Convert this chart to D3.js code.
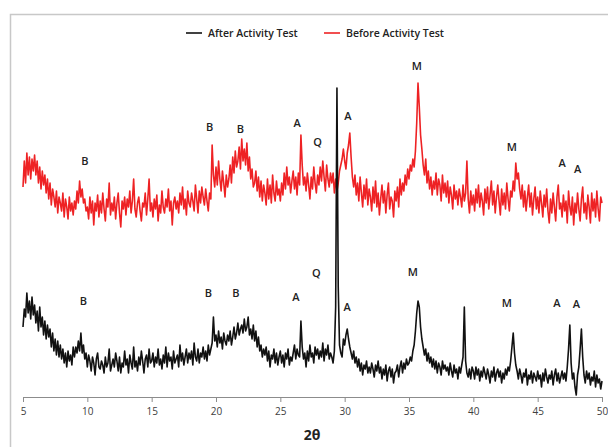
<!DOCTYPE html>
<html>
<head>
<meta charset="utf-8">
<script src="https://cdn.jsdelivr.net/npm/d3@7"></script>
<style>
  body { margin: 0; background: #fff; }
  svg { display: block; }
</style>
</head>
<body>
<div id="chart"></div>
<script>
// 2theta grid, 0.1 degree steps from 5 to 50
const twoTheta = d3.range(451).map(i => +(5 + i * 0.1).toFixed(1));

// intensity (arbitrary units), one row per degree
const afterTest = [
  70, 88, 80, 104, 84, 96, 78, 100, 82, 92,
  74, 86, 66, 90, 70, 80, 62, 76, 58, 72,
  60, 68, 50, 64, 46, 58, 42, 56, 40, 52,
  38, 48, 34, 44, 30, 46, 36, 42, 32, 50,
  40, 50, 44, 56, 46, 64, 44, 52, 38, 44,
  30, 42, 36, 26, 40, 34, 22, 38, 44, 30,
  28, 36, 32, 24, 40, 30, 34, 48, 26, 32,
  38, 30, 44, 36, 26, 40, 24, 34, 30, 46,
  32, 38, 24, 42, 34, 28, 50, 30, 36, 26,
  40, 32, 46, 36, 24, 38, 42, 30, 48, 34,
  36, 44, 30, 40, 34, 48, 32, 38, 28, 42,
  34, 50, 30, 44, 36, 40, 28, 46, 34, 38,
  42, 30, 52, 36, 44, 32, 40, 48, 34, 44,
  38, 46, 32, 54, 40, 36, 48, 34, 44, 40,
  50, 38, 46, 36, 52, 42, 48, 54, 80, 56,
  62, 50, 66, 54, 60, 48, 64, 56, 52, 62,
  56, 66, 52, 60, 70, 58, 64, 74, 62, 68,
  72, 64, 78, 66, 70, 80, 62, 68, 58, 72,
  56, 66, 50, 60, 46, 52, 40, 48, 42, 50,
  36, 46, 30, 42, 38, 48, 34, 44, 32, 40,
  46, 34, 42, 30, 44, 38, 48, 32, 40, 36,
  44, 52, 38, 48, 42, 40, 76, 50, 38, 44,
  30, 46, 36, 52, 40, 44, 34, 50, 42, 48,
  38, 46, 40, 54, 36, 48, 42, 52, 38, 44,
  40, 34, 46, 90, 309, 110, 52, 44, 40, 58,
  52, 62, 68, 58, 50, 44, 38, 46, 34, 40,
  30, 38, 26, 34, 22, 32, 28, 36, 24, 30,
  24, 34, 28, 20, 32, 26, 36, 24, 30, 18,
  28, 22, 32, 16, 26, 30, 20, 28, 14, 24,
  26, 32, 20, 30, 36, 24, 34, 28, 38, 32,
  34, 40, 36, 46, 52, 66, 84, 96, 90, 70,
  58, 50, 42, 48, 36, 44, 34, 40, 30, 38,
  28, 36, 24, 34, 30, 22, 36, 28, 32, 26,
  30, 22, 34, 26, 20, 32, 24, 28, 18, 30,
  24, 32, 40, 90, 36, 24, 20, 28, 18, 30,
  26, 18, 30, 22, 28, 16, 26, 20, 30, 24,
  18, 28, 22, 14, 26, 20, 30, 16, 24, 28,
  20, 26, 14, 24, 18, 28, 22, 30, 26, 36,
  50, 64, 44, 32, 26, 18, 28, 22, 14, 24,
  20, 28, 12, 22, 18, 26, 14, 24, 20, 16,
  26, 18, 22, 10, 24, 16, 28, 20, 14, 22,
  18, 26, 12, 22, 28, 16, 24, 14, 20, 26,
  18, 24, 16, 30, 48, 72, 34, 18, 24, 10,
  2, 22, 30, 48, 68, 40, 22, 14, 26, 18,
  24, 12, 20, 16, 26, 10, 22, 14, 18, 8,
  16
];

const beforeTest = [
  210, 236, 214, 244, 222, 240, 218, 238, 226, 242,
  222, 236, 214, 230, 208, 226, 212, 222, 204, 218,
  198, 214, 192, 208, 200, 190, 206, 184, 200, 194,
  186, 204, 180, 198, 190, 178, 200, 186, 194, 182,
  196, 188, 206, 194, 216, 200, 208, 194, 198, 186,
  190, 178, 200, 184, 196, 172, 194, 186, 202, 180,
  196, 184, 204, 188, 176, 198, 190, 214, 182, 194,
  186, 200, 178, 194, 204, 184, 170, 196, 188, 200,
  182, 198, 190, 206, 184, 196, 218, 188, 180, 194,
  200, 186, 176, 194, 190, 204, 182, 198, 218, 186,
  194, 180, 198, 188, 202, 176, 192, 184, 206, 190,
  184, 198, 190, 208, 186, 196, 172, 194, 200, 188,
  196, 184, 204, 192, 210, 188, 198, 182, 206, 194,
  190, 204, 196, 186, 212, 198, 184, 206, 194, 210,
  200, 192, 208, 196, 186, 204, 198, 252, 222, 210,
  230, 212, 236, 218, 206, 226, 214, 200, 222, 210,
  218, 232, 214, 240, 224, 246, 230, 236, 250, 228,
  258, 236, 248, 232, 254, 226, 240, 218, 228, 210,
  214, 226, 206, 220, 200, 216, 196, 212, 204, 192,
  218, 198, 212, 194, 222, 204, 196, 216, 202, 208,
  196, 214, 202, 224, 208, 230, 212, 220, 204, 216,
  226, 208, 220, 202, 224, 212, 262, 232, 212, 220,
  206, 224, 212, 198, 220, 208, 230, 214, 204, 222,
  212, 230, 216, 236, 220, 206, 232, 218, 210, 224,
  214, 224, 204, 218, 206, 214, 226, 232, 238, 248,
  236, 228, 244, 252, 264, 240, 220, 210, 222, 202,
  214, 196, 220, 204, 190, 212, 198, 218, 192, 208,
  200, 186, 210, 194, 216, 190, 204, 182, 198, 212,
  194, 206, 184, 202, 214, 188, 200, 196, 180, 206,
  196, 210, 190, 218, 202, 214, 206, 222, 212, 228,
  218, 232, 226, 238, 230, 246, 274, 314, 290, 262,
  248, 232, 222, 238, 214, 226, 208, 220, 202, 216,
  208, 224, 202, 218, 212, 196, 222, 204, 214, 200,
  216, 194, 210, 202, 188, 212, 198, 206, 192, 208,
  200, 190, 212, 196, 204, 236, 198, 184, 206, 192,
  202, 186, 208, 194, 212, 190, 204, 196, 182, 208,
  194, 210, 188, 202, 216, 192, 206, 184, 200, 212,
  196, 182, 208, 192, 204, 188, 214, 198, 186, 206,
  200, 216, 206, 234, 218, 224, 208, 198, 212, 190,
  206, 186, 200, 212, 190, 204, 182, 198, 210, 188,
  200, 184, 206, 194, 180, 202, 190, 208, 186, 174,
  198, 184, 204, 190, 176, 200, 212, 188, 194, 180,
  202, 186, 196, 174, 206, 190, 182, 200, 172, 194,
  184, 204, 188, 176, 198, 210, 184, 194, 178, 202,
  190, 174, 204, 186, 198, 180, 206, 188, 176, 200,
  194
];

const xTicks = [5, 10, 15, 20, 25, 30, 35, 40, 45, 50];

// phase labels: letter, 2theta, intensity
const phaseLetters = ["B", "B", "B", "A", "Q", "A", "M", "M", "A", "A",
                      "B", "B", "B", "A", "Q", "A", "M", "M", "A", "A"];
const phaseX = [9.8, 19.5, 21.9, 26.3, 27.9, 30.25, 35.6, 43.0, 46.9, 48.1,
                9.7, 19.4, 21.55, 26.2, 27.8, 30.2, 35.3, 42.6, 46.5, 48.0];
const phaseY = [237, 271, 269, 275, 256, 282, 332, 251, 235, 229,
                97, 105, 105, 101, 125, 91, 126, 95, 95, 94];

const width = 608, height = 447;

const svg = d3.select("#chart")
    .append("svg")
    .attr("width", width)
    .attr("height", height);

// chart area border
svg.append("rect")
    .attr("x", 10.5)
    .attr("y", 14.5)
    .attr("width", 700)
    .attr("height", 500)
    .attr("fill", "none")
    .attr("stroke", "#c8c8c8")
    .attr("stroke-width", 1.5);

const x = d3.scaleLinear().domain([5, 50]).range([23, 602]);
const y = d3.scaleLinear().domain([0, 340]).range([397, 57]);

const line = d3.line()
    .x((d, i) => x(twoTheta[i]))
    .y(d => y(d));

// before first, then after drawn on top
svg.append("path")
    .datum(beforeTest)
    .attr("fill", "none")
    .attr("stroke", "#ee2224")
    .attr("stroke-width", 1.6)
    .attr("stroke-linejoin", "round")
    .attr("d", line);

svg.append("path")
    .datum(afterTest)
    .attr("fill", "none")
    .attr("stroke", "#111")
    .attr("stroke-width", 1.6)
    .attr("stroke-linejoin", "round")
    .attr("d", line);

// x axis
const xAxis = svg.append("g")
    .attr("transform", "translate(0,397)")
    .call(d3.axisBottom(x).tickValues(xTicks).tickSize(5).tickSizeOuter(0));
xAxis.select(".domain").attr("stroke", "#8c8c8c");
xAxis.selectAll(".tick line").attr("stroke", "#8c8c8c");
xAxis.selectAll(".tick text")
    .attr("fill", "#404040")
    .attr("dy", "0.95em")
    .style("font-family", "'Open Sans', sans-serif")
    .style("font-size", "10px");

svg.append("text")
    .attr("x", 312)
    .attr("y", 440)
    .attr("text-anchor", "middle")
    .style("font-family", "'Open Sans', sans-serif")
    .style("font-size", "14px")
    .style("font-weight", "700")
    .attr("fill", "#222")
    .text("2θ");

// phase letters
svg.selectAll(".phase")
    .data(phaseLetters)
    .enter()
    .append("text")
    .attr("class", "phase")
    .attr("x", (d, i) => x(phaseX[i]))
    .attr("y", (d, i) => y(phaseY[i]))
    .attr("text-anchor", "middle")
    .attr("dominant-baseline", "central")
    .style("font-family", "'Open Sans', sans-serif")
    .style("font-size", "11px")
    .style("font-weight", "600")
    .attr("fill", "#222")
    .text(d => d);

// legend
const legendNames = ["After Activity Test", "Before Activity Test"];
const legendColors = ["#111", "#ee2224"];
const legendX = [186, 324];

const legend = svg.selectAll(".legend")
    .data(legendNames)
    .enter()
    .append("g")
    .attr("class", "legend")
    .attr("transform", (d, i) => `translate(${legendX[i]},33)`);

legend.append("line")
    .attr("x1", 0).attr("x2", 16)
    .attr("y1", 0).attr("y2", 0)
    .attr("stroke", (d, i) => legendColors[i])
    .attr("stroke-width", 1.6);

legend.append("text")
    .attr("x", 22)
    .attr("y", 0)
    .attr("dominant-baseline", "central")
    .style("font-family", "'Open Sans', sans-serif")
    .style("font-size", "10.5px")
    .style("font-weight", "600")
    .attr("fill", "#222")
    .text(d => d);
</script>
</body>
</html>
